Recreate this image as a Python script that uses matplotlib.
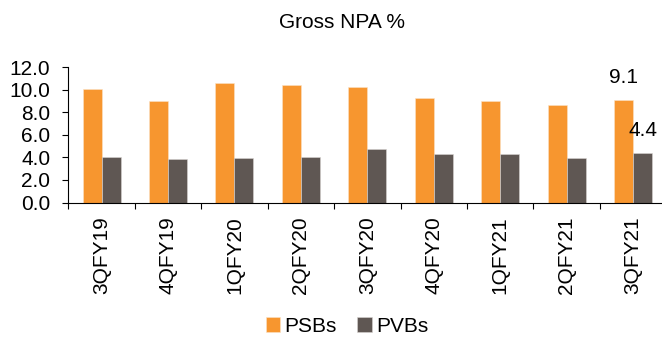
import matplotlib
matplotlib.use("Agg")
import matplotlib.pyplot as plt
import numpy as np

plt.rcParams['font.family'] = ['Liberation Sans', 'DejaVu Sans']

quarters = ["3QFY19", "4QFY19", "1QFY20", "2QFY20", "3QFY20",
            "4QFY20", "1QFY21", "2QFY21", "3QFY21"]
psbs = [10.04, 9.0, 10.58, 10.43, 10.22, 9.27, 8.98, 8.62, 9.1]
pvbs = [4.06, 3.86, 3.98, 4.04, 4.72, 4.30, 4.30, 3.95, 4.4]
yticks = [0, 2, 4, 6, 8, 10, 12]

orange = "#F7962F"
grey = "#5F5753"
fs = 15

fig = plt.figure(figsize=(6.62, 3.40), dpi=100)
ax = fig.add_axes([0.1032, 0.4044, 0.9033, 0.3976])

x = np.arange(len(quarters))
w = 0.286
b1 = ax.bar(x - w / 2, psbs, w, color=orange, edgecolor="#FBE3C8", linewidth=0.4, label="PSBs")
b2 = ax.bar(x + w / 2, pvbs, w, color=grey, edgecolor="#D8D4D2", linewidth=0.4, label="PVBs")

ax.set_xlim(-0.5, len(quarters) - 0.5)
ax.set_ylim(0, 12)
ax.set_yticks(yticks)
ax.set_yticklabels([f"{v:.1f}" for v in yticks], fontsize=fs)
ax.tick_params(axis='y', direction='out', length=4, width=0.8, pad=9)

ax.set_xticks(x)
ax.set_xticklabels(quarters, rotation=90, fontsize=fs)
ax.tick_params(axis='x', which='major', length=0, pad=10)
ax.set_xticks(np.arange(len(quarters) + 1) - 0.5, minor=True)
ax.tick_params(axis='x', which='minor', direction='out', length=4, width=0.8)

for s in ("top", "right"):
    ax.spines[s].set_visible(False)
for s in ("left", "bottom"):
    ax.spines[s].set_linewidth(0.8)
    ax.spines[s].set_color("black")

# value labels on the latest quarter
last = len(quarters) - 1
ax.annotate(f"{psbs[last]:.1f}", (x[last] - w / 2, psbs[last]), xytext=(0, 16.5),
            textcoords="offset points", ha="center", va="center", fontsize=fs)
ax.annotate(f"{pvbs[last]:.1f}", (x[last] + w / 2, pvbs[last]), xytext=(0, 16.5),
            textcoords="offset points", ha="center", va="center", fontsize=fs)

fig.text(342 / 662, 1 - 22 / 340, "Gross NPA %", ha="center", va="center", fontsize=fs)

fig.legend(handles=[b1, b2], labels=["PSBs", "PVBs"], loc="center",
           bbox_to_anchor=(347 / 662, 1 - 326 / 340), ncol=2, frameon=False,
           fontsize=fs, handlelength=0.7, handleheight=0.7, handletextpad=0.2,
           columnspacing=1.0, borderpad=0)

fig.savefig("out.png", dpi=100)
